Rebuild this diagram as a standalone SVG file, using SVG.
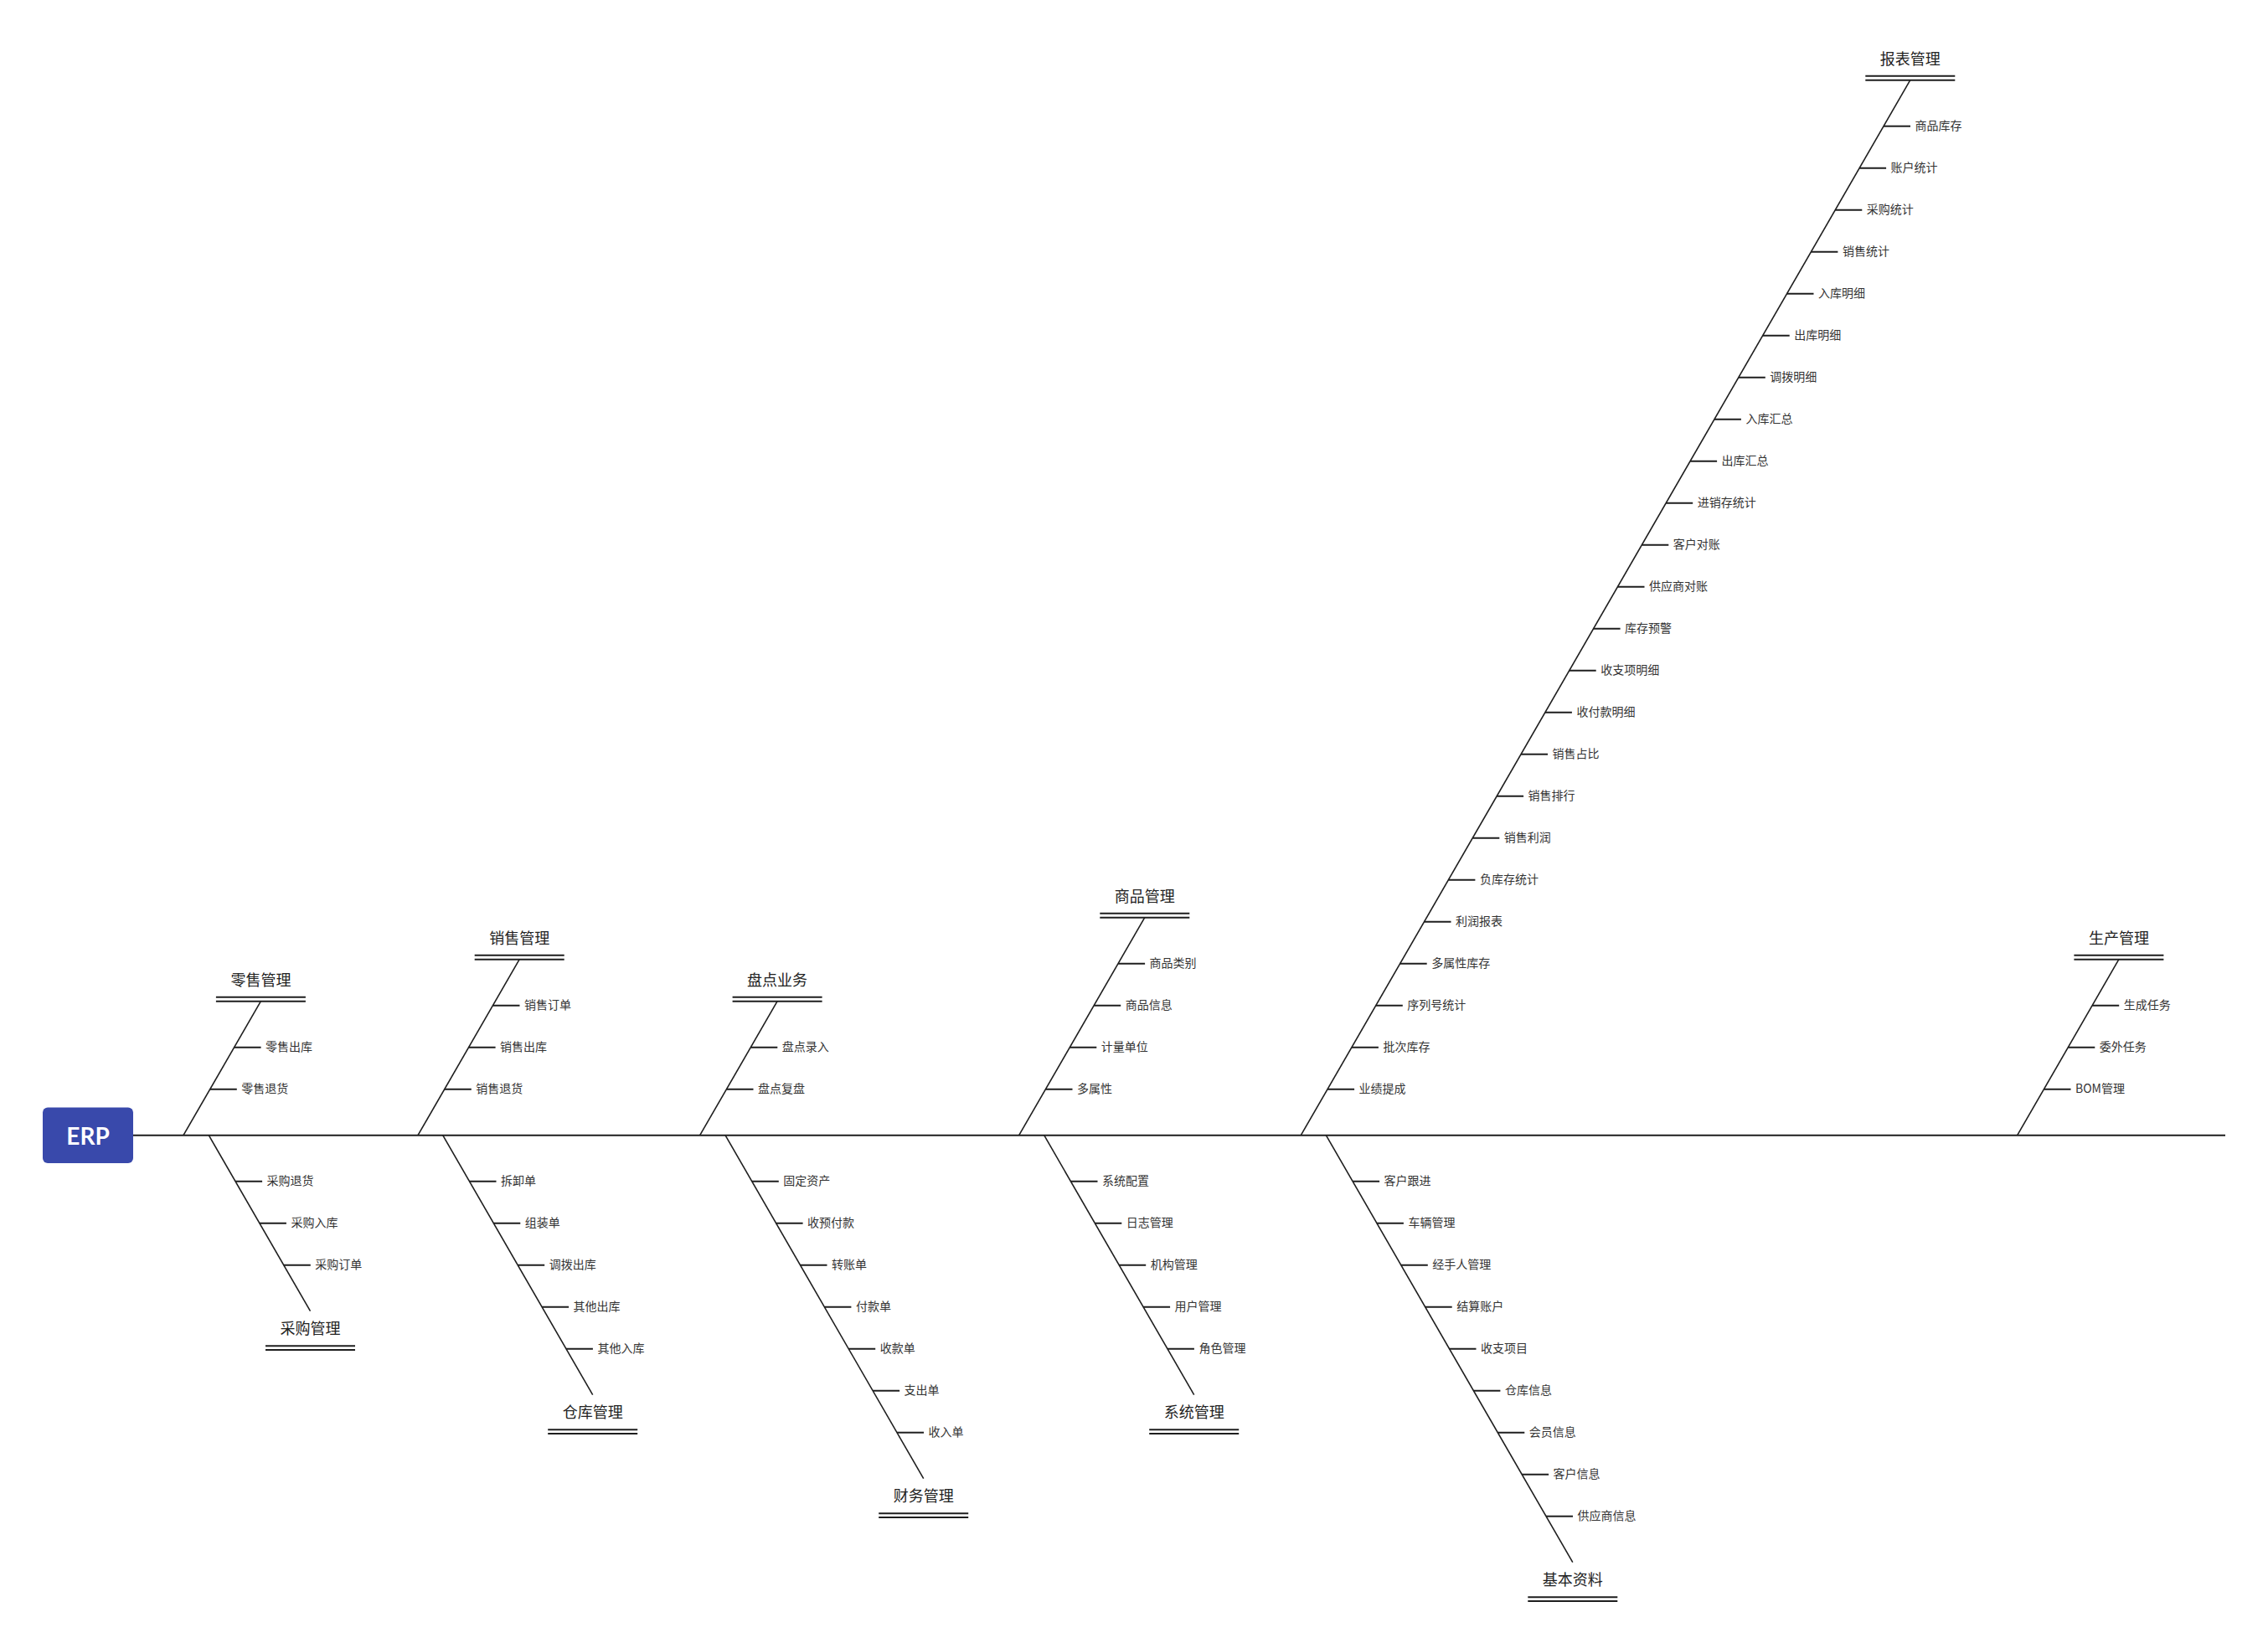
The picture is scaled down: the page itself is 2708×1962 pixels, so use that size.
<svg xmlns="http://www.w3.org/2000/svg" width="2708" height="1962" viewBox="0 0 2708 1962">
<style>
.bg{fill:#ffffff}
.sp{stroke:#1e1e1e;stroke-width:2;fill:none}
.dg{stroke:#1e1e1e;stroke-width:1.6;fill:none}
.tk{stroke:#1e1e1e;stroke-width:2;fill:none}
.dl{stroke:#1e1e1e;stroke-width:2;fill:none}
.lbl{font-family:"Noto Sans CJK SC","Noto Sans",sans-serif;font-size:14px;fill:#333333;dominant-baseline:central;transform:translate(0px,-1.5px)}
.ttl{font-family:"Noto Sans CJK SC","Noto Sans",sans-serif;font-size:18px;fill:#222222;text-anchor:middle;dominant-baseline:central;transform:translate(0px,-1.5px)}
.root{fill:#3949ab}
.rootTxt{font-family:Lato,"Open Sans",sans-serif;font-weight:bold;font-size:28px;fill:#ffffff;text-anchor:middle;dominant-baseline:central}
</style>
<rect class="bg" x="0" y="0" width="2708" height="1962"/>

<g id="connectors">
  <line class="sp" x1="159" y1="1355.7" x2="2657" y2="1355.7"/>
  <!-- diagonals -->
  <line class="dg" x1="219" y1="1355.7" x2="311.4" y2="1195.7"/>
  <line class="dg" x1="249.3" y1="1355.7" x2="370.5" y2="1565.7"/>
  <line class="dg" x1="499" y1="1355.7" x2="620.2" y2="1145.7"/>
  <line class="dg" x1="528.7" y1="1355.7" x2="707.7" y2="1665.7"/>
  <line class="dg" x1="835.7" y1="1355.7" x2="928.1" y2="1195.7"/>
  <line class="dg" x1="866" y1="1355.7" x2="1102.7" y2="1765.7"/>
  <line class="dg" x1="1216.7" y1="1355.7" x2="1366.8" y2="1095.7"/>
  <line class="dg" x1="1246.7" y1="1355.7" x2="1425.7" y2="1665.7"/>
  <line class="dg" x1="1553.3" y1="1355.7" x2="2280.8" y2="95.7"/>
  <line class="dg" x1="1583.3" y1="1355.7" x2="1877.8" y2="1865.7"/>
  <line class="dg" x1="2408.7" y1="1355.7" x2="2529.9" y2="1145.7"/>
  <!-- ticks: retail -->
  <line class="tk" x1="279.6" y1="1250.7" x2="311.6" y2="1250.7"/>
  <line class="tk" x1="250.8" y1="1300.7" x2="282.8" y2="1300.7"/>
  <!-- purchase -->
  <line class="tk" x1="281.1" y1="1410.7" x2="313.1" y2="1410.7"/>
  <line class="tk" x1="309.9" y1="1460.7" x2="341.9" y2="1460.7"/>
  <line class="tk" x1="338.8" y1="1510.7" x2="370.8" y2="1510.7"/>
  <!-- sales -->
  <line class="tk" x1="588.5" y1="1200.7" x2="620.5" y2="1200.7"/>
  <line class="tk" x1="559.6" y1="1250.7" x2="591.6" y2="1250.7"/>
  <line class="tk" x1="530.8" y1="1300.7" x2="562.8" y2="1300.7"/>
  <!-- warehouse -->
  <line class="tk" x1="560.5" y1="1410.7" x2="592.5" y2="1410.7"/>
  <line class="tk" x1="589.3" y1="1460.7" x2="621.3" y2="1460.7"/>
  <line class="tk" x1="618.2" y1="1510.7" x2="650.2" y2="1510.7"/>
  <line class="tk" x1="647.1" y1="1560.7" x2="679.1" y2="1560.7"/>
  <line class="tk" x1="675.9" y1="1610.7" x2="707.9" y2="1610.7"/>
  <!-- inventory check -->
  <line class="tk" x1="896.3" y1="1250.7" x2="928.3" y2="1250.7"/>
  <line class="tk" x1="867.5" y1="1300.7" x2="899.5" y2="1300.7"/>
  <!-- finance -->
  <line class="tk" x1="897.8" y1="1410.7" x2="929.8" y2="1410.7"/>
  <line class="tk" x1="926.6" y1="1460.7" x2="958.6" y2="1460.7"/>
  <line class="tk" x1="955.5" y1="1510.7" x2="987.5" y2="1510.7"/>
  <line class="tk" x1="984.4" y1="1560.7" x2="1016.4" y2="1560.7"/>
  <line class="tk" x1="1013.2" y1="1610.7" x2="1045.2" y2="1610.7"/>
  <line class="tk" x1="1042.1" y1="1660.7" x2="1074.1" y2="1660.7"/>
  <line class="tk" x1="1071" y1="1710.7" x2="1103" y2="1710.7"/>
  <!-- goods -->
  <line class="tk" x1="1335.1" y1="1150.7" x2="1367.1" y2="1150.7"/>
  <line class="tk" x1="1306.2" y1="1200.7" x2="1338.2" y2="1200.7"/>
  <line class="tk" x1="1277.3" y1="1250.7" x2="1309.3" y2="1250.7"/>
  <line class="tk" x1="1248.5" y1="1300.7" x2="1280.5" y2="1300.7"/>
  <!-- system -->
  <line class="tk" x1="1278.5" y1="1410.7" x2="1310.5" y2="1410.7"/>
  <line class="tk" x1="1307.3" y1="1460.7" x2="1339.3" y2="1460.7"/>
  <line class="tk" x1="1336.2" y1="1510.7" x2="1368.2" y2="1510.7"/>
  <line class="tk" x1="1365.1" y1="1560.7" x2="1397.1" y2="1560.7"/>
  <line class="tk" x1="1393.9" y1="1610.7" x2="1425.9" y2="1610.7"/>
  <!-- report -->
  <line class="tk" x1="2249.0" y1="150.7" x2="2281.0" y2="150.7"/>
  <line class="tk" x1="2220.1" y1="200.7" x2="2252.1" y2="200.7"/>
  <line class="tk" x1="2191.3" y1="250.7" x2="2223.3" y2="250.7"/>
  <line class="tk" x1="2162.4" y1="300.7" x2="2194.4" y2="300.7"/>
  <line class="tk" x1="2133.5" y1="350.7" x2="2165.5" y2="350.7"/>
  <line class="tk" x1="2104.7" y1="400.7" x2="2136.7" y2="400.7"/>
  <line class="tk" x1="2075.8" y1="450.7" x2="2107.8" y2="450.7"/>
  <line class="tk" x1="2046.9" y1="500.7" x2="2078.9" y2="500.7"/>
  <line class="tk" x1="2018.1" y1="550.7" x2="2050.1" y2="550.7"/>
  <line class="tk" x1="1989.2" y1="600.7" x2="2021.2" y2="600.7"/>
  <line class="tk" x1="1960.3" y1="650.7" x2="1992.3" y2="650.7"/>
  <line class="tk" x1="1931.5" y1="700.7" x2="1963.5" y2="700.7"/>
  <line class="tk" x1="1902.6" y1="750.7" x2="1934.6" y2="750.7"/>
  <line class="tk" x1="1873.7" y1="800.7" x2="1905.7" y2="800.7"/>
  <line class="tk" x1="1844.9" y1="850.7" x2="1876.9" y2="850.7"/>
  <line class="tk" x1="1816.0" y1="900.7" x2="1848.0" y2="900.7"/>
  <line class="tk" x1="1787.1" y1="950.7" x2="1819.1" y2="950.7"/>
  <line class="tk" x1="1758.3" y1="1000.7" x2="1790.3" y2="1000.7"/>
  <line class="tk" x1="1729.4" y1="1050.7" x2="1761.4" y2="1050.7"/>
  <line class="tk" x1="1700.5" y1="1100.7" x2="1732.5" y2="1100.7"/>
  <line class="tk" x1="1671.7" y1="1150.7" x2="1703.7" y2="1150.7"/>
  <line class="tk" x1="1642.8" y1="1200.7" x2="1674.8" y2="1200.7"/>
  <line class="tk" x1="1613.9" y1="1250.7" x2="1645.9" y2="1250.7"/>
  <line class="tk" x1="1585.1" y1="1300.7" x2="1617.1" y2="1300.7"/>
  <!-- basic data -->
  <line class="tk" x1="1615.1" y1="1410.7" x2="1647.1" y2="1410.7"/>
  <line class="tk" x1="1643.9" y1="1460.7" x2="1675.9" y2="1460.7"/>
  <line class="tk" x1="1672.8" y1="1510.7" x2="1704.8" y2="1510.7"/>
  <line class="tk" x1="1701.7" y1="1560.7" x2="1733.7" y2="1560.7"/>
  <line class="tk" x1="1730.5" y1="1610.7" x2="1762.5" y2="1610.7"/>
  <line class="tk" x1="1759.4" y1="1660.7" x2="1791.4" y2="1660.7"/>
  <line class="tk" x1="1788.3" y1="1710.7" x2="1820.3" y2="1710.7"/>
  <line class="tk" x1="1817.1" y1="1760.7" x2="1849.1" y2="1760.7"/>
  <line class="tk" x1="1846.0" y1="1810.7" x2="1878.0" y2="1810.7"/>
  <!-- production -->
  <line class="tk" x1="2498.2" y1="1200.7" x2="2530.2" y2="1200.7"/>
  <line class="tk" x1="2469.3" y1="1250.7" x2="2501.3" y2="1250.7"/>
  <line class="tk" x1="2440.5" y1="1300.7" x2="2472.5" y2="1300.7"/>
</g>

<g id="root">
  <rect class="root" x="51" y="1322.5" width="108" height="66.5" rx="6" ry="6"/>
  <text class="rootTxt" x="105" y="1356">ERP</text>
</g>

<g id="retail">
  <text class="ttl" x="311.4" y="1170.7">零售管理</text>
  <line class="dl" x1="257.9" y1="1190.7" x2="364.9" y2="1190.7"/>
  <line class="dl" x1="257.9" y1="1195.7" x2="364.9" y2="1195.7"/>
  <text class="lbl" x="317.1" y="1250.7">零售出库</text>
  <text class="lbl" x="288.3" y="1300.7">零售退货</text>
</g>

<g id="purchase">
  <text class="lbl" x="318.6" y="1410.7">采购退货</text>
  <text class="lbl" x="347.4" y="1460.7">采购入库</text>
  <text class="lbl" x="376.3" y="1510.7">采购订单</text>
  <text class="ttl" x="370.5" y="1586.7">采购管理</text>
  <line class="dl" x1="317" y1="1607.2" x2="424" y2="1607.2"/>
  <line class="dl" x1="317" y1="1611.9" x2="424" y2="1611.9"/>
</g>

<g id="sales">
  <text class="ttl" x="620.2" y="1120.7">销售管理</text>
  <line class="dl" x1="566.7" y1="1140.7" x2="673.7" y2="1140.7"/>
  <line class="dl" x1="566.7" y1="1145.7" x2="673.7" y2="1145.7"/>
  <text class="lbl" x="626" y="1200.7">销售订单</text>
  <text class="lbl" x="597.1" y="1250.7">销售出库</text>
  <text class="lbl" x="568.3" y="1300.7">销售退货</text>
</g>

<g id="warehouse">
  <text class="lbl" x="598" y="1410.7">拆卸单</text>
  <text class="lbl" x="626.8" y="1460.7">组装单</text>
  <text class="lbl" x="655.7" y="1510.7">调拨出库</text>
  <text class="lbl" x="684.6" y="1560.7">其他出库</text>
  <text class="lbl" x="713.4" y="1610.7">其他入库</text>
  <text class="ttl" x="707.7" y="1686.7">仓库管理</text>
  <line class="dl" x1="654.2" y1="1707.2" x2="761.2" y2="1707.2"/>
  <line class="dl" x1="654.2" y1="1711.9" x2="761.2" y2="1711.9"/>
</g>

<g id="stocktake">
  <text class="ttl" x="928.1" y="1170.7">盘点业务</text>
  <line class="dl" x1="874.6" y1="1190.7" x2="981.6" y2="1190.7"/>
  <line class="dl" x1="874.6" y1="1195.7" x2="981.6" y2="1195.7"/>
  <text class="lbl" x="933.8" y="1250.7">盘点录入</text>
  <text class="lbl" x="905" y="1300.7">盘点复盘</text>
</g>

<g id="finance">
  <text class="lbl" x="935.3" y="1410.7">固定资产</text>
  <text class="lbl" x="964.1" y="1460.7">收预付款</text>
  <text class="lbl" x="993" y="1510.7">转账单</text>
  <text class="lbl" x="1021.9" y="1560.7">付款单</text>
  <text class="lbl" x="1050.7" y="1610.7">收款单</text>
  <text class="lbl" x="1079.6" y="1660.7">支出单</text>
  <text class="lbl" x="1108.5" y="1710.7">收入单</text>
  <text class="ttl" x="1102.7" y="1786.7">财务管理</text>
  <line class="dl" x1="1049.2" y1="1807.2" x2="1156.2" y2="1807.2"/>
  <line class="dl" x1="1049.2" y1="1811.9" x2="1156.2" y2="1811.9"/>
</g>

<g id="goods">
  <text class="ttl" x="1366.8" y="1070.7">商品管理</text>
  <line class="dl" x1="1313.3" y1="1090.7" x2="1420.3" y2="1090.7"/>
  <line class="dl" x1="1313.3" y1="1095.7" x2="1420.3" y2="1095.7"/>
  <text class="lbl" x="1372.6" y="1150.7">商品类别</text>
  <text class="lbl" x="1343.7" y="1200.7">商品信息</text>
  <text class="lbl" x="1314.8" y="1250.7">计量单位</text>
  <text class="lbl" x="1286" y="1300.7">多属性</text>
</g>

<g id="system">
  <text class="lbl" x="1316" y="1410.7">系统配置</text>
  <text class="lbl" x="1344.8" y="1460.7">日志管理</text>
  <text class="lbl" x="1373.7" y="1510.7">机构管理</text>
  <text class="lbl" x="1402.6" y="1560.7">用户管理</text>
  <text class="lbl" x="1431.4" y="1610.7">角色管理</text>
  <text class="ttl" x="1425.7" y="1686.7">系统管理</text>
  <line class="dl" x1="1372.2" y1="1707.2" x2="1479.2" y2="1707.2"/>
  <line class="dl" x1="1372.2" y1="1711.9" x2="1479.2" y2="1711.9"/>
</g>

<g id="report">
  <text class="ttl" x="2280.8" y="70.7">报表管理</text>
  <line class="dl" x1="2227.3" y1="90.7" x2="2334.3" y2="90.7"/>
  <line class="dl" x1="2227.3" y1="95.7" x2="2334.3" y2="95.7"/>
  <text class="lbl" x="2286.5" y="150.7">商品库存</text>
  <text class="lbl" x="2257.6" y="200.7">账户统计</text>
  <text class="lbl" x="2228.8" y="250.7">采购统计</text>
  <text class="lbl" x="2199.9" y="300.7">销售统计</text>
  <text class="lbl" x="2171.0" y="350.7">入库明细</text>
  <text class="lbl" x="2142.2" y="400.7">出库明细</text>
  <text class="lbl" x="2113.3" y="450.7">调拨明细</text>
  <text class="lbl" x="2084.4" y="500.7">入库汇总</text>
  <text class="lbl" x="2055.6" y="550.7">出库汇总</text>
  <text class="lbl" x="2026.7" y="600.7">进销存统计</text>
  <text class="lbl" x="1997.8" y="650.7">客户对账</text>
  <text class="lbl" x="1969.0" y="700.7">供应商对账</text>
  <text class="lbl" x="1940.1" y="750.7">库存预警</text>
  <text class="lbl" x="1911.2" y="800.7">收支项明细</text>
  <text class="lbl" x="1882.4" y="850.7">收付款明细</text>
  <text class="lbl" x="1853.5" y="900.7">销售占比</text>
  <text class="lbl" x="1824.6" y="950.7">销售排行</text>
  <text class="lbl" x="1795.8" y="1000.7">销售利润</text>
  <text class="lbl" x="1766.9" y="1050.7">负库存统计</text>
  <text class="lbl" x="1738.0" y="1100.7">利润报表</text>
  <text class="lbl" x="1709.2" y="1150.7">多属性库存</text>
  <text class="lbl" x="1680.3" y="1200.7">序列号统计</text>
  <text class="lbl" x="1651.4" y="1250.7">批次库存</text>
  <text class="lbl" x="1622.6" y="1300.7">业绩提成</text>
</g>

<g id="basic">
  <text class="lbl" x="1652.6" y="1410.7">客户跟进</text>
  <text class="lbl" x="1681.4" y="1460.7">车辆管理</text>
  <text class="lbl" x="1710.3" y="1510.7">经手人管理</text>
  <text class="lbl" x="1739.2" y="1560.7">结算账户</text>
  <text class="lbl" x="1768.0" y="1610.7">收支项目</text>
  <text class="lbl" x="1796.9" y="1660.7">仓库信息</text>
  <text class="lbl" x="1825.8" y="1710.7">会员信息</text>
  <text class="lbl" x="1854.6" y="1760.7">客户信息</text>
  <text class="lbl" x="1883.5" y="1810.7">供应商信息</text>
  <text class="ttl" x="1877.8" y="1886.7">基本资料</text>
  <line class="dl" x1="1824.3" y1="1907.2" x2="1931.3" y2="1907.2"/>
  <line class="dl" x1="1824.3" y1="1911.9" x2="1931.3" y2="1911.9"/>
</g>

<g id="production">
  <text class="ttl" x="2529.9" y="1120.7">生产管理</text>
  <line class="dl" x1="2476.4" y1="1140.7" x2="2583.4" y2="1140.7"/>
  <line class="dl" x1="2476.4" y1="1145.7" x2="2583.4" y2="1145.7"/>
  <text class="lbl" x="2535.7" y="1200.7">生成任务</text>
  <text class="lbl" x="2506.8" y="1250.7">委外任务</text>
  <text class="lbl" x="2478" y="1300.7">BOM管理</text>
</g>
</svg>
